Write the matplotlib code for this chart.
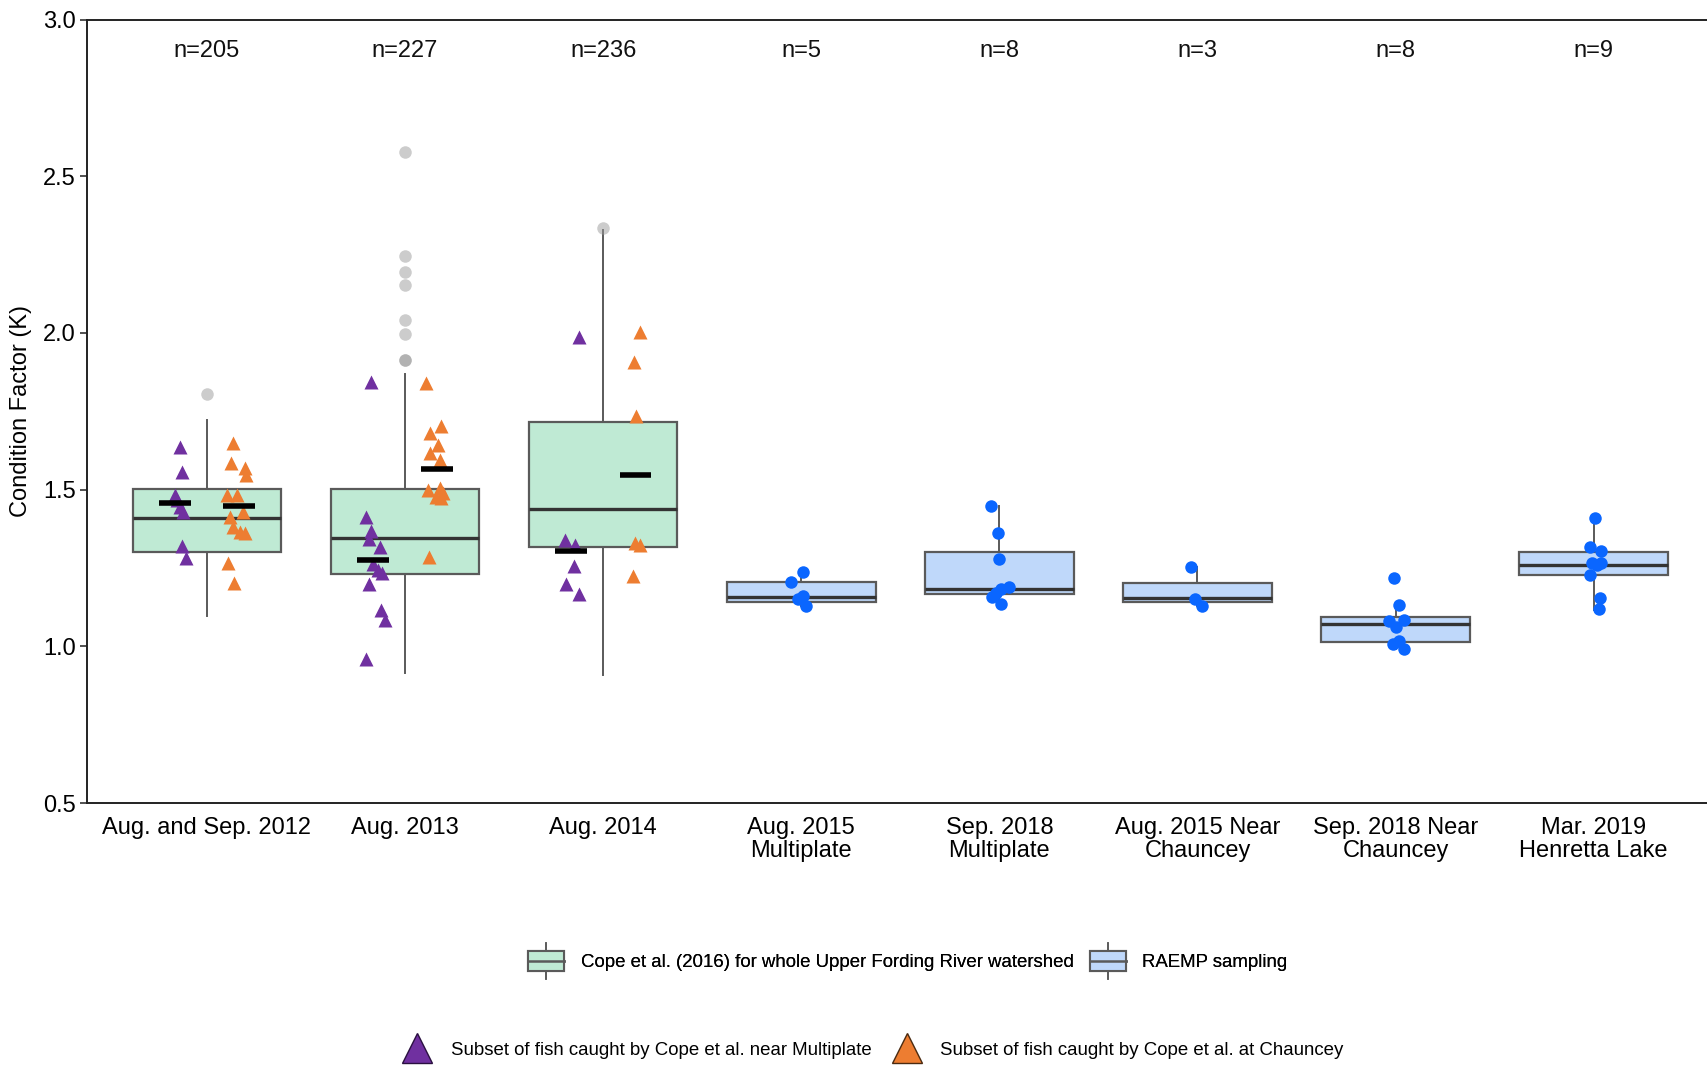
import matplotlib
matplotlib.use("Agg")
import matplotlib.pyplot as plt
from matplotlib.legend_handler import HandlerBase
from matplotlib.lines import Line2D
from matplotlib.patches import Patch, Rectangle

plt.rcParams["font.family"] = ["Liberation Sans", "DejaVu Sans"]

# categorias e tamanhos de amostra
CATEGORIES = [
    "Aug. and Sep. 2012", "Aug. 2013", "Aug. 2014",
    "Aug. 2015\nMultiplate", "Sep. 2018\nMultiplate",
    "Aug. 2015 Near\nChauncey", "Sep. 2018 Near\nChauncey",
    "Mar. 2019\nHenretta Lake",
]
N_COUNTS = [205, 227, 236, 5, 8, 3, 8, 9]

# estatisticas das caixas
BOX_Q1 = [1.302, 1.230, 1.318, 1.143, 1.167, 1.141, 1.013, 1.229]
BOX_MED = [1.409, 1.345, 1.438, 1.157, 1.184, 1.153, 1.071, 1.260]
BOX_Q3 = [1.501, 1.501, 1.717, 1.204, 1.300, 1.201, 1.095, 1.302]
WHISKER_LO = [1.097, 0.915, 0.909, 1.128, 1.134, 1.130, 0.992, 1.116]
WHISKER_HI = [1.722, 1.868, 2.330, 1.237, 1.448, 1.252, 1.131, 1.409]
OUTLIERS = [
    [1.805],
    [2.579, 2.246, 2.195, 2.152, 2.042, 1.998, 1.914, 1.914],
    [2.335],
    [], [], [], [], [],
]

# subconjuntos de Cope et al. (tres primeiras categorias)
PURPLE_VALUES = [
    [1.637, 1.557, 1.483, 1.467, 1.446, 1.430, 1.321, 1.281],
    [1.843, 1.413, 1.367, 1.342, 1.318, 1.263, 1.245, 1.233, 1.198, 1.117, 1.084, 0.958],
    [1.986, 1.340, 1.324, 1.257, 1.200, 1.166],
]
PURPLE_JITTER = [
    [-0.136, -0.127, -0.161, -0.153, -0.136, -0.119, -0.127, -0.105],
    [-0.170, -0.195, -0.173, -0.182, -0.128, -0.162, -0.136, -0.116, -0.182, -0.123, -0.103, -0.198],
    [-0.123, -0.190, -0.140, -0.145, -0.185, -0.123],
]
ORANGE_VALUES = [
    [1.648, 1.584, 1.568, 1.547, 1.483, 1.483, 1.430, 1.414, 1.382, 1.366, 1.361, 1.265, 1.201],
    [1.840, 1.703, 1.681, 1.642, 1.617, 1.596, 1.505, 1.498, 1.490, 1.477, 1.473, 1.284],
    [2.004, 1.908, 1.736, 1.330, 1.322, 1.223],
]
ORANGE_JITTER = [
    [0.133, 0.122, 0.192, 0.197, 0.100, 0.153, 0.184, 0.117, 0.130, 0.167, 0.192, 0.105, 0.138],
    [0.105, 0.184, 0.128, 0.167, 0.125, 0.179, 0.175, 0.116, 0.192, 0.158, 0.184, 0.121],
    [0.185, 0.154, 0.168, 0.159, 0.185, 0.151],
]
PURPLE_MEANS = [1.458, 1.276, 1.303]
ORANGE_MEANS = [1.448, 1.566, 1.548]

# amostragem RAEMP (cinco ultimas categorias)
RAEMP_VALUES = [
    [1.237, 1.204, 1.161, 1.150, 1.128],
    [1.448, 1.363, 1.279, 1.190, 1.182, 1.170, 1.157, 1.134],
    [1.252, 1.150, 1.130],
    [1.219, 1.131, 1.081, 1.084, 1.063, 1.007, 1.017, 0.992],
    [1.409, 1.318, 1.304, 1.265, 1.267, 1.258, 1.228, 1.153, 1.118],
]
RAEMP_JITTER = [
    [0.007, -0.054, 0.010, -0.015, 0.024],
    [-0.042, -0.005, -0.004, 0.050, 0.008, -0.017, -0.039, 0.008],
    [-0.033, -0.011, 0.022],
    [-0.007, 0.019, -0.032, 0.041, 0.000, -0.015, 0.019, 0.044],
    [0.008, -0.017, 0.037, -0.009, 0.037, 0.017, -0.020, 0.034, 0.025],
]

GREEN = "#bfead4"
BLUE = "#bfd8fa"
EDGE = "#5a5a5a"
MEDIAN = "#333333"
PURPLE = "#7030a0"
ORANGE = "#ed7d31"
POINT_BLUE = "#0a66ff"


# Desenha o simbolo de boxplot usado na legenda.
class BoxGlyph(HandlerBase):
    def create_artists(self, legend, orig_handle, xdescent, ydescent,
                       width, height, fontsize, trans):
        x0, y0 = -xdescent, -ydescent
        cx = x0 + width / 2
        whisker = Line2D([cx, cx], [y0 - height * 0.4, y0 + height * 1.4],
                         color=EDGE, lw=1.2, transform=trans)
        box = Rectangle((x0, y0), width, height, facecolor=orig_handle.get_facecolor(),
                        edgecolor=EDGE, lw=1.5, transform=trans)
        median = Line2D([x0, x0 + width], [y0 + height / 2] * 2,
                        color=EDGE, lw=1.8, transform=trans)
        return [whisker, box, median]


def main() -> None:
    fig = plt.figure(figsize=(17.07, 10.66), dpi=100, facecolor="white")
    ax = fig.add_axes([0.051, 0.2467, 0.949, 0.7349])

    positions = list(range(len(CATEGORIES)))
    stats = []
    for i in positions:
        stats.append({
            "q1": BOX_Q1[i], "med": BOX_MED[i], "q3": BOX_Q3[i],
            "whislo": WHISKER_LO[i], "whishi": WHISKER_HI[i],
            "fliers": OUTLIERS[i],
        })

    boxes = ax.bxp(
        stats, positions=positions, widths=0.75, patch_artist=True,
        showcaps=False, showfliers=True,
        boxprops=dict(edgecolor=EDGE, linewidth=1.6),
        whiskerprops=dict(color=EDGE, linewidth=1.4),
        medianprops=dict(color=MEDIAN, linewidth=2.4),
        flierprops=dict(marker="o", markersize=9, markerfacecolor="#9a9a9a",
                        markeredgecolor="none", alpha=0.5),
        zorder=2,
    )
    for i, patch in enumerate(boxes["boxes"]):
        patch.set_facecolor(GREEN if i < 3 else BLUE)

    # pontos dos subconjuntos de Cope et al.
    for i in range(3):
        ax.plot([i + d for d in PURPLE_JITTER[i]], PURPLE_VALUES[i], linestyle="none",
                marker="^", markersize=10.5, color=PURPLE, markeredgecolor="none", zorder=4)
        ax.plot([i + d for d in ORANGE_JITTER[i]], ORANGE_VALUES[i], linestyle="none",
                marker="^", markersize=10.5, color=ORANGE, markeredgecolor="none", zorder=4)
        ax.hlines(PURPLE_MEANS[i], i - 0.243, i - 0.082, color="black", linewidth=4, zorder=5)
        ax.hlines(ORANGE_MEANS[i], i + 0.083, i + 0.243, color="black", linewidth=4, zorder=5)

    # pontos RAEMP
    for k, values in enumerate(RAEMP_VALUES):
        pos = k + 3
        ax.plot([pos + d for d in RAEMP_JITTER[k]], values, linestyle="none",
                marker="o", markersize=9, color=POINT_BLUE, markeredgecolor="none", zorder=4)

    for i, n in enumerate(N_COUNTS):
        ax.text(i, 2.9, f"n={n}", ha="center", va="center", fontsize=17, color="#111111")

    ax.set_xlim(-0.605, 7.572)
    ax.set_ylim(0.5, 3.0)
    ax.set_yticks([0.5, 1.0, 1.5, 2.0, 2.5, 3.0])
    ax.set_yticklabels(["0.5", "1.0", "1.5", "2.0", "2.5", "3.0"])
    ax.set_xticks(positions)
    ax.set_xticklabels(CATEGORIES, linespacing=1.08)
    ax.tick_params(axis="y", labelsize=17, length=5, width=1.2, color="#333333", pad=3)
    ax.tick_params(axis="x", labelsize=17, length=0, pad=10)
    ax.set_ylabel("Condition Factor (K)", fontsize=17, labelpad=8)
    for side in ["left", "bottom", "top"]:
        ax.spines[side].set_color("#222222")
        ax.spines[side].set_linewidth(1.4)
    ax.spines["right"].set_visible(False)

    # legendas
    box_handles = [Patch(facecolor=GREEN), Patch(facecolor=BLUE)]
    leg1 = fig.legend(
        box_handles,
        ["Cope et al. (2016) for whole Upper Fording River watershed", "RAEMP sampling"],
        handler_map={Patch: BoxGlyph()}, loc="center", bbox_to_anchor=(908 / 1707, 1 - 961 / 1066),
        ncol=2, frameon=False, fontsize=13.4, handlelength=1.9, handleheight=1.3,
        handletextpad=0.9, columnspacing=0.9,
    )
    fig.add_artist(leg1)
    tri_handles = [
        Line2D([], [], linestyle="none", marker="^", markersize=21, color=PURPLE,
               markeredgecolor="#2a1040", markeredgewidth=1.0),
        Line2D([], [], linestyle="none", marker="^", markersize=21, color=ORANGE,
               markeredgecolor="#4a2a10", markeredgewidth=1.0),
    ]
    fig.legend(
        tri_handles,
        ["Subset of fish caught by Cope et al. near Multiplate",
         "Subset of fish caught by Cope et al. at Chauncey"],
        loc="center", bbox_to_anchor=(873 / 1707, 1 - 1050 / 1066),
        ncol=2, frameon=False, fontsize=13.4, handlelength=1.6,
        handletextpad=1.0, columnspacing=1.1,
    )

    plt.savefig("out.png", dpi=100)
    plt.close(fig)


if __name__ == "__main__":
    main()
